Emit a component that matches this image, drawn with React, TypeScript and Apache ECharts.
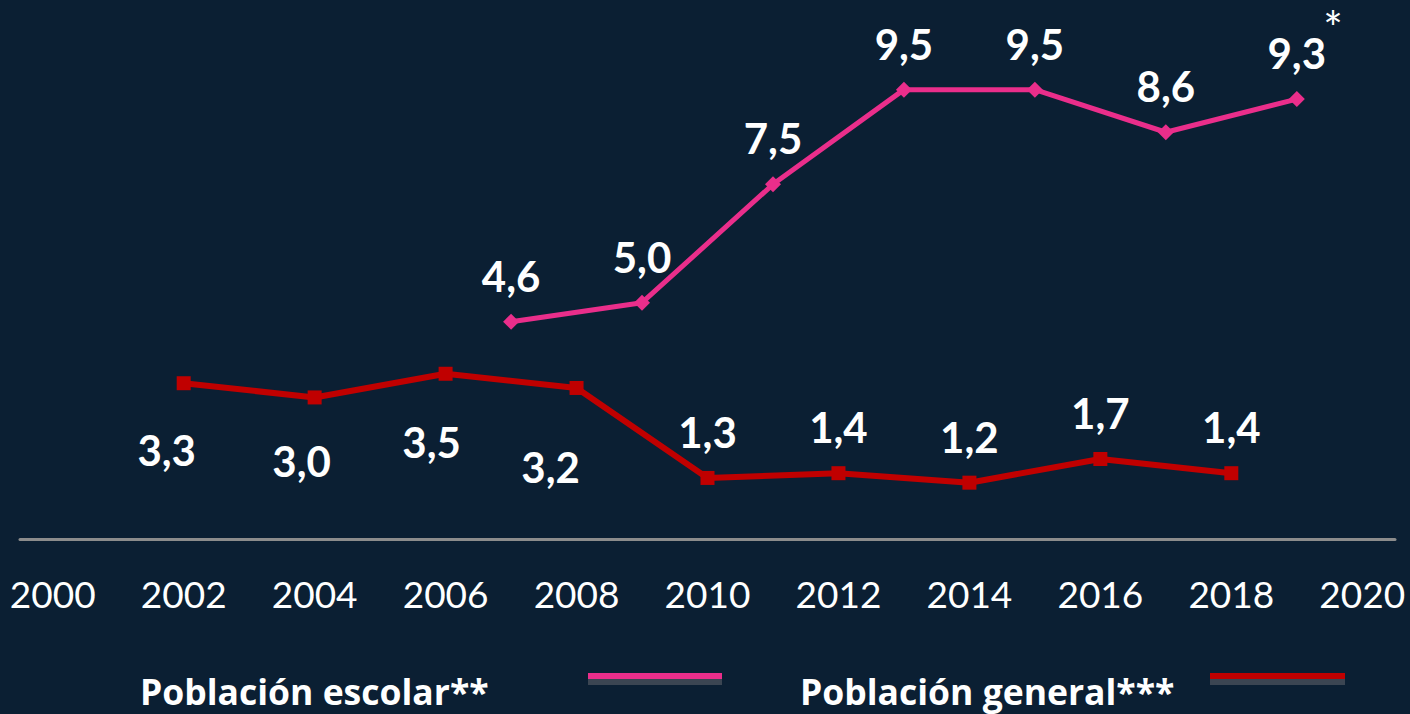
import React, { useEffect, useRef } from "react";
import * as echarts from "echarts";

// ---- data ----
const tickYears = [2000, 2002, 2004, 2006, 2008, 2010, 2012, 2014, 2016, 2018, 2020];
const escolarYears = [2007, 2009, 2011, 2013, 2015, 2017, 2019];
const escolarValues = [4.6, 5.0, 7.5, 9.5, 9.5, 8.6, 9.3];
const generalYears = [2002, 2004, 2006, 2008, 2010, 2012, 2014, 2016, 2018];
const generalValues = [3.3, 3.0, 3.5, 3.2, 1.3, 1.4, 1.2, 1.7, 1.4];
const seriesNames = ["Población escolar**", "Población general***"];
const footnoteMark = "*";

// ---- layout / style ----
const BG = "#0b1f33";
const PINK = "#ea2e8b";
const RED = "#c00000";
const FONT = "Lato";
const LEGEND_FONT = "'Open Sans'";
const generalLabelOffsets: number[][] = [
  [-17, 67], [-13, 64], [-14, 68], [-26, 79],
  [0, -46], [0, -46], [0, -46], [0, -46], [0, -46],
];
const escolarLabelOffset = [0, -46];

const fmt = (v: number) => v.toFixed(1).replace(".", ",");

export default function App() {
  const ref = useRef<HTMLDivElement>(null);
  useEffect(() => {
    document.body.style.margin = "0";
    const chart = echarts.init(ref.current!, null, { renderer: "svg" });
    const labelBase = {
      show: true,
      position: "inside" as const,
      color: "#ffffff",
      fontFamily: FONT,
      fontWeight: "bold" as const,
      fontSize: 42,
      formatter: (p: any) => fmt(p.value[1]),
    };
    chart.setOption({
      animation: false,
      backgroundColor: BG,
      grid: { left: 20, right: 15, top: 18.6, bottom: 174.5 },
      xAxis: {
        type: "value",
        min: 1999.5,
        max: 2020.5,
        axisLine: { show: true, lineStyle: { color: "#8c8c8c", width: 3 } },
        axisTick: { show: false },
        splitLine: { show: false },
        axisLabel: {
          customValues: tickYears,
          color: "#ffffff",
          fontFamily: FONT,
          fontSize: 37,
          margin: 35,
          formatter: (v: number) => String(v),
        },
      },
      yAxis: {
        type: "value",
        min: 0,
        max: 11,
        show: false,
        splitLine: { show: false },
      },
      series: [
        {
          name: seriesNames[0],
          type: "line",
          symbol: "diamond",
          symbolSize: 16,
          lineStyle: { color: PINK, width: 5 },
          itemStyle: { color: PINK },
          label: { ...labelBase, offset: escolarLabelOffset },
          data: escolarYears.map((y, i) => [y, escolarValues[i]]),
          z: 3,
        },
        {
          name: seriesNames[1],
          type: "line",
          symbol: "rect",
          symbolSize: 14,
          lineStyle: { color: RED, width: 6 },
          itemStyle: { color: RED },
          label: labelBase,
          data: generalYears.map((y, i) => ({
            value: [y, generalValues[i]],
            label: { offset: generalLabelOffsets[i] },
          })),
          z: 2,
        },
      ],
      graphic: [
        {
          type: "text",
          x: 140,
          y: 691,
          style: {
            text: seriesNames[0],
            fill: "#ffffff",
            font: `bold 35.5px ${LEGEND_FONT}`,
            verticalAlign: "middle",
          },
        },
        { type: "rect", shape: { x: 588, y: 679, width: 134, height: 6 }, style: { fill: "#3b4552" } },
        { type: "rect", shape: { x: 588, y: 673, width: 134, height: 6 }, style: { fill: PINK } },
        {
          type: "text",
          x: 800,
          y: 691,
          style: {
            text: seriesNames[1],
            fill: "#ffffff",
            font: `bold 35.5px ${LEGEND_FONT}`,
            verticalAlign: "middle",
          },
        },
        { type: "rect", shape: { x: 1210, y: 679, width: 135, height: 6 }, style: { fill: "#3b4552" } },
        { type: "rect", shape: { x: 1210, y: 673, width: 135, height: 6 }, style: { fill: RED } },
        {
          type: "text",
          x: 1333,
          y: 27.5,
          style: {
            text: footnoteMark,
            fill: "#ffffff",
            fontFamily: FONT,
            fontSize: 46,
            lineHeight: 6,
            align: "center",
            verticalAlign: "middle",
          },
        },
      ],
    });
    return () => chart.dispose();
  }, []);
  return <div ref={ref} style={{ position: "fixed", left: 0, top: 0, width: 1410, height: 714 }} />;
}
